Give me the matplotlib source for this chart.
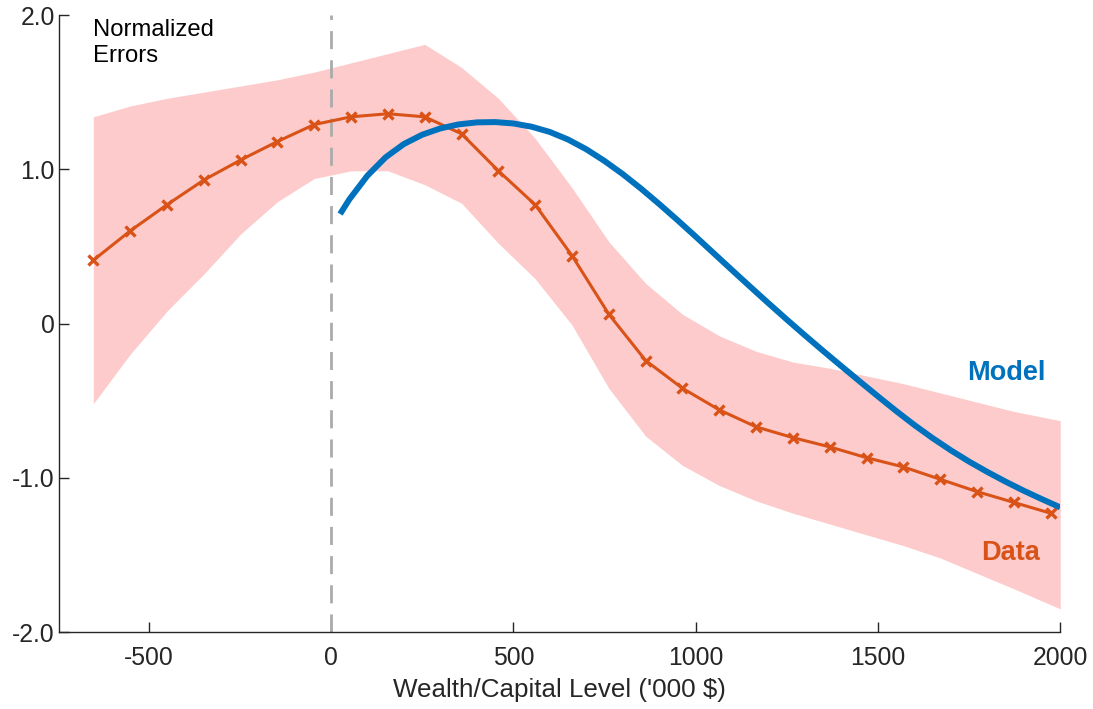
import numpy as np
import matplotlib
matplotlib.use('Agg')
import matplotlib.pyplot as plt

plt.rcParams['font.family'] = ['Liberation Sans', 'DejaVu Sans']

# wealth bins ('000 $) and normalized errors in the data
wealth = [-652, -551, -450, -349, -248, -147, -46, 55, 156, 257, 358, 459, 560, 661,
          762, 863, 964, 1065, 1166, 1267, 1368, 1469, 1570, 1671, 1772, 1873, 1974]
data_err = [0.41, 0.60, 0.77, 0.93, 1.06, 1.18, 1.29, 1.34, 1.36, 1.34, 1.23, 0.99, 0.77, 0.44,
            0.06, -0.24, -0.42, -0.56, -0.67, -0.74, -0.80, -0.87, -0.93, -1.01, -1.09, -1.16, -1.23]

# confidence band around the data
band_x = [-652, -551, -450, -349, -248, -147, -46, 55, 156, 257, 358, 459, 560, 661,
          762, 863, 964, 1065, 1166, 1267, 1368, 1469, 1570, 1671, 1772, 1873, 2000]
band_hi = [1.34, 1.41, 1.46, 1.50, 1.54, 1.58, 1.63, 1.69, 1.75, 1.81, 1.66, 1.46, 1.20, 0.88,
           0.53, 0.26, 0.06, -0.08, -0.18, -0.25, -0.29, -0.34, -0.39, -0.45, -0.51, -0.57, -0.63]
band_lo = [-0.52, -0.20, 0.08, 0.32, 0.58, 0.79, 0.94, 0.99, 0.99, 0.90, 0.78, 0.52, 0.29, -0.01,
           -0.42, -0.73, -0.92, -1.05, -1.15, -1.23, -1.30, -1.37, -1.44, -1.52, -1.62, -1.72, -1.85]

# model prediction
model_x = [25, 50, 100, 150, 200, 250, 300, 350, 400, 450, 500, 550, 600, 650, 700, 750, 800,
           850, 900, 950, 1000, 1050, 1100, 1150, 1200, 1250, 1300, 1350, 1400, 1450, 1500,
           1550, 1600, 1650, 1700, 1750, 1800, 1850, 1900, 1950, 2000]
model_err = [0.710, 0.804, 0.959, 1.078, 1.164, 1.224, 1.265, 1.291, 1.304, 1.306, 1.297,
             1.276, 1.242, 1.193, 1.130, 1.054, 0.969, 0.875, 0.775, 0.671, 0.564, 0.455,
             0.346, 0.238, 0.131, 0.026, -0.077, -0.178, -0.277, -0.375, -0.472, -0.567,
             -0.658, -0.743, -0.822, -0.895, -0.962, -1.025, -1.084, -1.139, -1.192]

xticks = [-500, 0, 500, 1000, 1500, 2000]
yticks = [-2.0, -1.0, 0, 1.0, 2.0]
ytick_labels = ['-2.0', '-1.0', '0', '1.0', '2.0']

blue = '#0072BD'
orange = '#D95319'
grey = '#262626'

fig = plt.figure(figsize=(10.93, 7.09), dpi=100)
ax = fig.add_axes([0.054, 0.1086, 0.916, 0.8702])

ax.fill_between(band_x, band_lo, band_hi, color='#FDCBCB', linewidth=0, zorder=1)
ax.axvline(0, color='#ABABAB', linewidth=2, dashes=(6.5, 4), zorder=2)
ax.plot(wealth, data_err, color=orange, linewidth=2.2, marker='x', markersize=7,
        markeredgewidth=2.4, zorder=3)
ax.plot(model_x, model_err, color=blue, linewidth=4.3, solid_capstyle='butt',
        solid_joinstyle='round', zorder=4)

ax.text(1959, -0.32, 'Model', color=blue, fontsize=19.5, fontweight='bold',
        ha='right', va='center')
ax.text(1945, -1.49, 'Data', color=orange, fontsize=19.5, fontweight='bold',
        ha='right', va='center')
ax.text(0.034, 0.993, 'Normalized\nErrors', transform=ax.transAxes, fontsize=17.2,
        color='black', ha='left', va='top', linespacing=1.2)

ax.set_xlim(-746, 2000)
ax.set_ylim(-2.0, 2.0)
ax.set_xticks(xticks)
ax.set_xticklabels([str(t) for t in xticks])
ax.set_yticks(yticks)
ax.set_yticklabels(ytick_labels)
ax.set_xlabel("Wealth/Capital Level ('000 $)", fontsize=18.7, color=grey, labelpad=6)

for side in ['top', 'right']:
    ax.spines[side].set_visible(False)
for side in ['left', 'bottom']:
    ax.spines[side].set_color(grey)
    ax.spines[side].set_linewidth(1)
ax.tick_params(direction='in', length=7, width=1, colors=grey, labelsize=17.8)
ax.tick_params(axis='x', pad=10)
ax.tick_params(axis='y', pad=3)

fig.savefig('out.png', dpi=100)
